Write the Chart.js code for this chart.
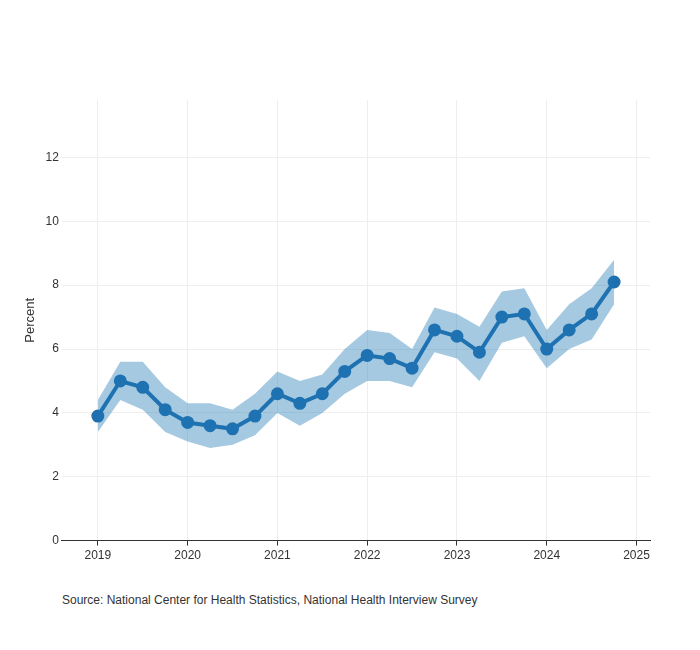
<!DOCTYPE html>
<html><head><meta charset="utf-8">
<script src="https://cdn.jsdelivr.net/npm/chart.js@4"></script>
<style>body{margin:0;background:#fff;font-family:"Liberation Sans",Arial,sans-serif}#w{position:relative;width:700px;height:650px}
#src{position:absolute;left:62px;top:593px;font-size:12px;color:#333}</style></head>
<body><div id="w"><canvas id="c" width="700" height="566"></canvas><div id="src">Source: National Center for Health Statistics, National Health Interview Survey</div></div>
<script>
const periods=[2019,2019.25,2019.5,2019.75,2020,2020.25,2020.5,2020.75,2021,2021.25,2021.5,2021.75,2022,2022.25,2022.5,2022.75,2023,2023.25,2023.5,2023.75,2024,2024.25,2024.5,2024.75];
const values=[3.9,5.0,4.8,4.1,3.7,3.6,3.5,3.9,4.6,4.3,4.6,5.3,5.8,5.7,5.4,6.6,6.4,5.9,7.0,7.1,6.0,6.6,7.1,8.1];
const upper=[4.4,5.6,5.6,4.8,4.3,4.3,4.1,4.6,5.3,5.0,5.2,6.0,6.6,6.5,6.0,7.3,7.1,6.7,7.8,7.9,6.6,7.4,7.9,8.8];
const lower=[3.4,4.4,4.1,3.4,3.1,2.9,3.0,3.3,4.0,3.6,4.0,4.6,5.0,5.0,4.8,5.9,5.7,5.0,6.2,6.4,5.4,6.0,6.3,7.4];
const yTicks=[0,2,4,6,8,10,12];
const pts=a=>a.map((v,i)=>({x:periods[i],y:v}));
Chart.defaults.font.family='"Liberation Sans", Arial, sans-serif';
new Chart(document.getElementById('c'),{type:'line',data:{datasets:[
{data:pts(upper),borderWidth:0,pointRadius:0,fill:'+1',backgroundColor:'rgba(31,119,180,0.4)'},
{data:pts(lower),borderWidth:0,pointRadius:0,fill:false},
{data:pts(values),borderColor:'#1f6fb0',borderWidth:4,pointRadius:4.5,pointBackgroundColor:'#1f6fb0',pointBorderColor:'#1f6fb0',fill:false}
]},options:{responsive:false,animation:false,layout:{padding:{top:100,right:50,left:19}},
plugins:{legend:{display:false},tooltip:{enabled:false}},
scales:{x:{type:'linear',min:2018.6,max:2025.15,afterBuildTicks:s=>{s.ticks=[2019,2020,2021,2022,2023,2024,2025].map(v=>({value:v}))},
ticks:{color:'#333',font:{size:12},callback:v=>String(v)},grid:{color:'#eee',drawTicks:true,tickColor:'#333',tickLength:5},border:{color:'#333'}},
y:{min:0,max:13.8,afterBuildTicks:s=>{s.ticks=yTicks.map(v=>({value:v}))},ticks:{color:'#333',font:{size:12}},
grid:{color:'#eee',drawTicks:false},border:{display:false},title:{display:true,text:'Percent',color:'#333',font:{size:13}}}}}});
</script></body></html>
